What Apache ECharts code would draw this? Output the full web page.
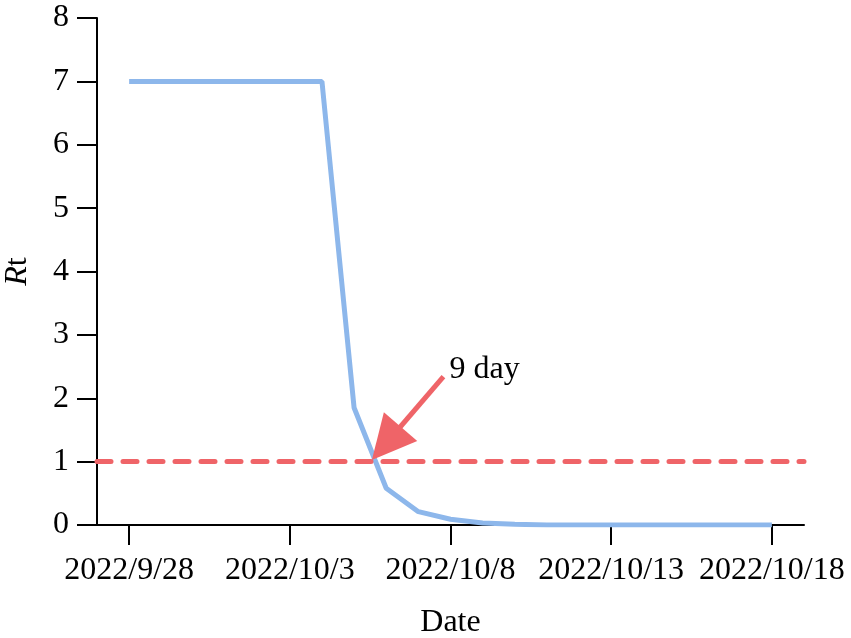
<!DOCTYPE html>
<html>
<head>
<meta charset="utf-8">
<script src="https://cdn.jsdelivr.net/npm/echarts@6/dist/echarts.min.js"></script>
<style>
	html,body{margin:0;padding:0;background:#fff;}
	#chart{width:851px;height:638px;}
</style>
</head>
<body>
<div id="chart"></div>
<script>
	// dates on the x axis (one per day, first and last are padding)
	var dates = ['2022/9/27','2022/9/28','2022/9/29','2022/9/30','2022/10/1','2022/10/2','2022/10/3',
		'2022/10/4','2022/10/5','2022/10/6','2022/10/7','2022/10/8','2022/10/9','2022/10/10',
		'2022/10/11','2022/10/12','2022/10/13','2022/10/14','2022/10/15','2022/10/16','2022/10/17',
		'2022/10/18','2022/10/19'];
	// Rt values
	var rtValues = ['-',7,7,7,7,7,7,7,1.85,0.58,0.21,0.09,0.03,0.01,0,0,0,0,0,0,0,0,'-'];
	var threshold = 1;
	// arrow annotation, in [day index, Rt] (end point is the centre of the arrow head)
	var arrowFrom = [10.78, 2.34];
	var arrowTo = [9.0, 1.29];
	var arrowText = '9 day';

	var font = '"Liberation Serif", "Times New Roman", serif';
	var showTick = function(i){ return (i - 1) % 5 === 0; };

	var chart = echarts.init(document.getElementById('chart'));
	var option = {
		animation:false,
		grid:{left:97,right:47,top:18,bottom:113,containLabel:false,outerBoundsMode:'none'},
		xAxis:[
			{
				type:'category',
				data:dates,
				boundaryGap:false,
				name:'Date',
				nameLocation:'middle',
				nameGap:82,
				nameTextStyle:{fontSize:32,color:'#000',fontFamily:font},
				axisLine:{lineStyle:{color:'#000',width:2}},
				axisTick:{interval:showTick,length:20,lineStyle:{color:'#000',width:2}},
				axisLabel:{interval:showTick,fontSize:32,color:'#000',fontFamily:font,margin:30},
				splitLine:{show:false}
			},
			{
				type:'value',
				min:0,
				max:22,
				show:false
			}
		],
		yAxis:{
			type:'value',
			min:0,
			max:8,
			interval:1,
			name:'{i|R}t',
			nameLocation:'middle',
			nameGap:63,
			nameTextStyle:{
				fontSize:32,color:'#000',fontFamily:font,
				rich:{i:{fontSize:32,color:'#000',fontFamily:font,fontStyle:'italic'}}
			},
			axisLine:{show:true,lineStyle:{color:'#000',width:2}},
			axisTick:{show:true,length:20,lineStyle:{color:'#000',width:2}},
			axisLabel:{fontSize:32,color:'#000',fontFamily:font,margin:28},
			splitLine:{show:false}
		},
		series:[
			{
				name:'Rt',
				type:'line',
				data:rtValues,
				symbol:'none',
				lineStyle:{color:'#8db7eb',width:5},
				markLine:{
					silent:true,
					symbol:'none',
					label:{show:false},
					lineStyle:{color:'#ef6468',width:5,type:[14,12],cap:'round'},
					data:[{yAxis:threshold}]
				},
				z:3
			},
			{
				name:'arrow',
				type:'lines',
				coordinateSystem:'cartesian2d',
				xAxisIndex:1,
				symbol:['none','triangle'],
				symbolSize:44,
				lineStyle:{color:'#ef6468',width:5,opacity:1,curveness:0},
				data:[{coords:[arrowFrom,arrowTo]}],
				z:4
			},
			{
				name:'note',
				type:'scatter',
				xAxisIndex:1,
				symbolSize:0,
				itemStyle:{opacity:1},
				data:[arrowFrom],
				label:{
					show:true,
					formatter:arrowText,
					position:'right',
					distance:6,
					offset:[0,-7],
					fontSize:32,
					color:'#000',
					opacity:1,
					fontFamily:font
				}
			}
		]
	};
	chart.setOption(option);
</script>
</body>
</html>
